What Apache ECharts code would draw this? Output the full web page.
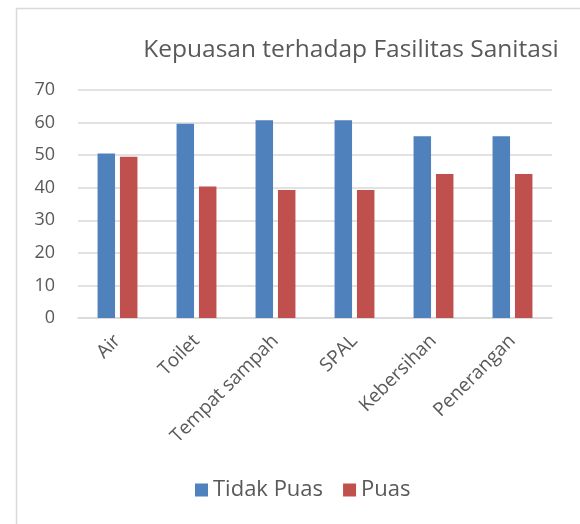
<!DOCTYPE html>
<html><head><meta charset="utf-8">
<script src="https://cdn.jsdelivr.net/npm/echarts@6/dist/echarts.min.js"></script>
<style>html,body{margin:0;padding:0;background:#fff}#c{width:580px;height:524px}</style>
</head><body><div id="c"></div>
<script>
var categories = ['Air', 'Toilet', 'Tempat sampah', 'SPAL', 'Kebersihan', 'Penerangan'];
var tidakPuas = [50.5, 59.6, 60.7, 60.7, 55.8, 55.8];
var puas = [49.5, 40.4, 39.3, 39.3, 44.2, 44.2];
var yTicks = [0, 10, 20, 30, 40, 50, 60, 70];
var titleText = 'Kepuasan terhadap Fasilitas Sanitasi';

var font = '"Open Sans", "Noto Sans", sans-serif';
var chart = echarts.init(document.getElementById('c'), null, {renderer: 'canvas'});
chart.setOption({
  animation: false,
  graphic: [{
    type: 'rect', left: 14, top: 6, silent: true,
    shape: {x: 0, y: 0, width: 600, height: 560},
    style: {fill: 'none', stroke: '#d9d9d9', lineWidth: 1.5}
  }],
  title: {
    text: titleText, left: 346, top: 33, textAlign: 'center',
    textStyle: {fontFamily: font, fontSize: 24.5, fontWeight: 'normal', color: '#595959'}
  },
  legend: {
    data: ['Tidak Puas', 'Puas'], top: 474, left: 190,
    itemWidth: 13, itemHeight: 13, itemGap: 20, icon: 'rect',
    textStyle: {fontFamily: font, fontSize: 22, color: '#595959'}
  },
  grid: {left: 78, right: 28, top: 90, bottom: 206, containLabel: false},
  xAxis: {
    type: 'category', data: categories,
    axisLine: {show: true, lineStyle: {color: '#d9d9d9', width: 1.5}},
    axisTick: {show: false},
    axisLabel: {rotate: 45, fontFamily: font, fontSize: 19, color: '#595959', margin: 20, interval: 0}
  },
  yAxis: {
    type: 'value', min: yTicks[0], max: yTicks[yTicks.length - 1], interval: 10,
    axisLine: {show: false}, axisTick: {show: false},
    splitLine: {lineStyle: {color: '#d9d9d9', width: 1.5}},
    axisLabel: {fontFamily: font, fontSize: 18, color: '#595959', margin: 23}
  },
  series: [
    {name: 'Tidak Puas', type: 'bar', data: tidakPuas, barWidth: 17.5, barGap: '28%',
     itemStyle: {color: '#4f81bd'}},
    {name: 'Puas', type: 'bar', data: puas, barWidth: 17.5, barGap: '28%',
     itemStyle: {color: '#c0504d'}}
  ]
});
</script></body></html>
